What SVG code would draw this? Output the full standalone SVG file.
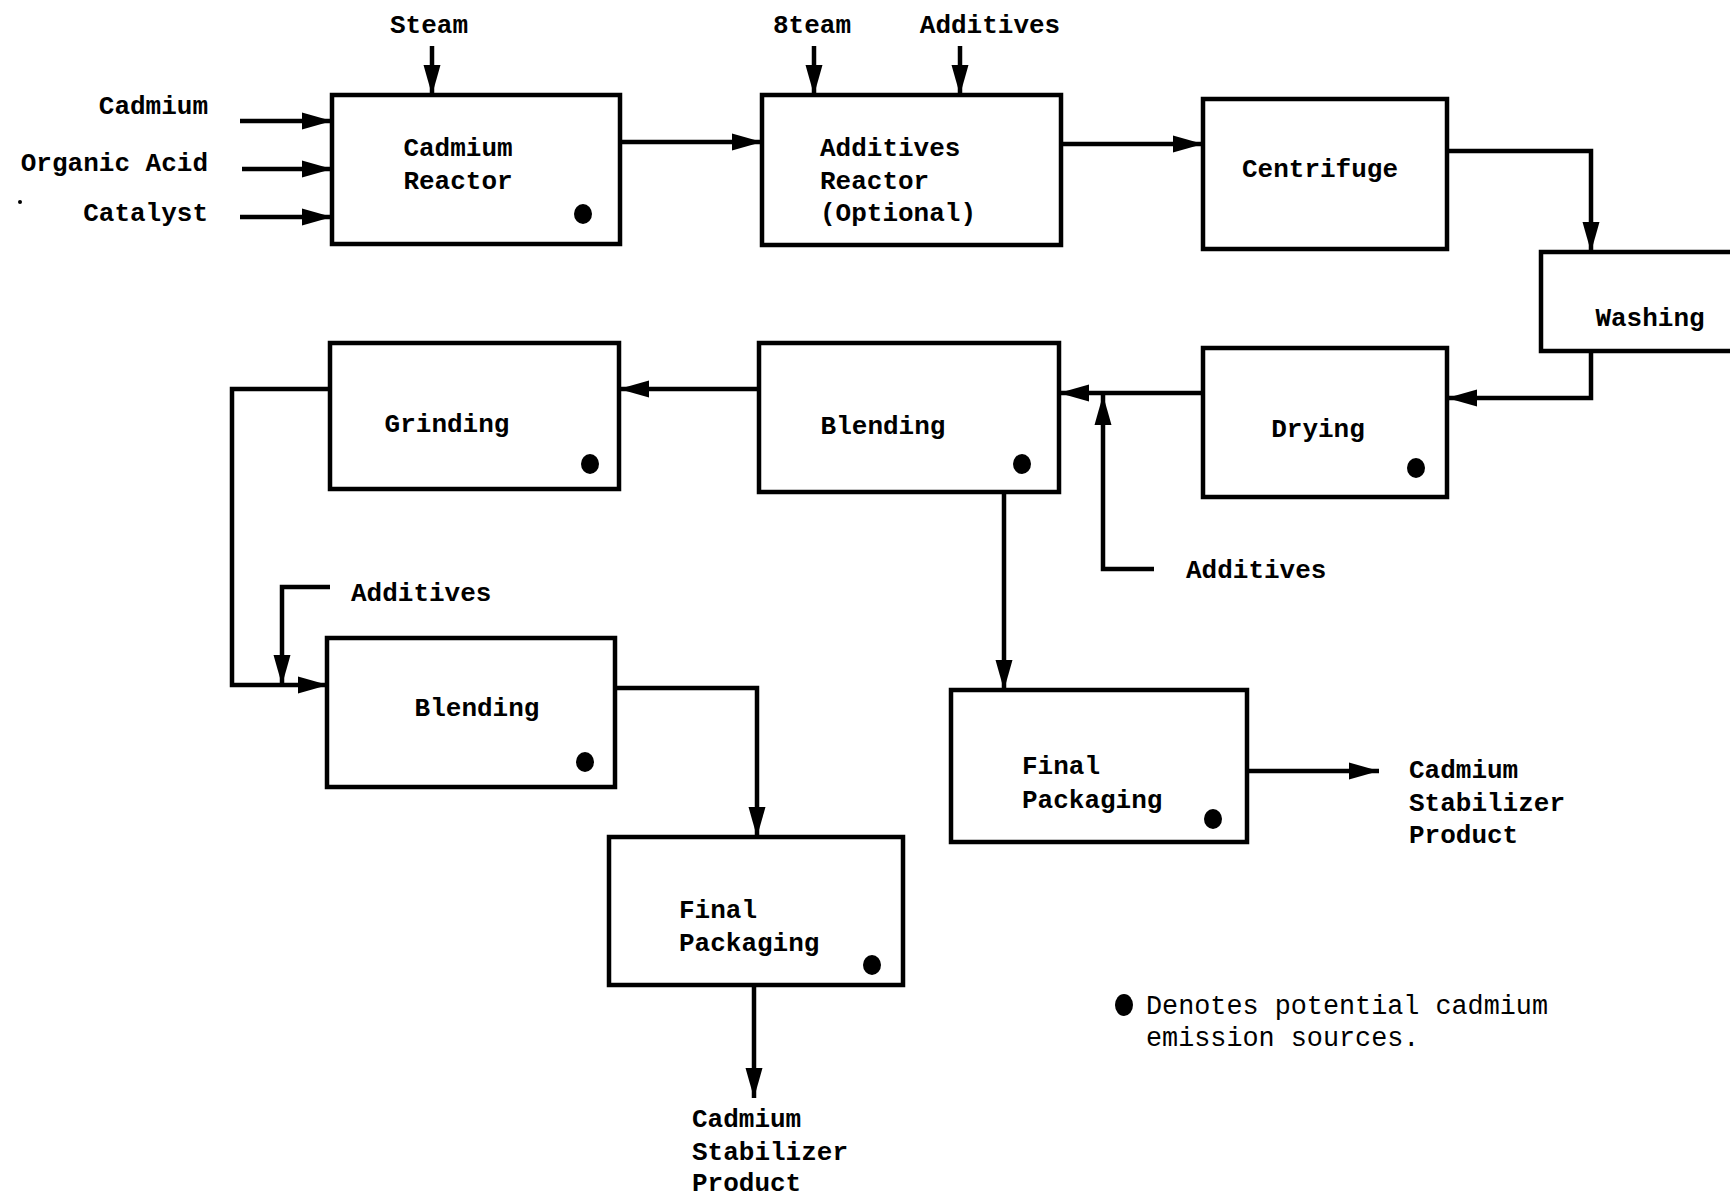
<svg xmlns="http://www.w3.org/2000/svg" width="1730" height="1197" viewBox="0 0 1730 1197">
<style>
.box{fill:#fff;stroke:#000;stroke-width:4.5}
.t{font-family:"Liberation Mono","DejaVu Sans Mono",monospace;font-weight:bold;font-size:26px;fill:#000}
.l{font-family:"Liberation Mono","DejaVu Sans Mono",monospace;font-size:26.8px;fill:#000}
.c{fill:none;stroke:#000;stroke-width:4.5}
.dot{fill:#000}
</style>
<defs>
<marker id="ah" markerUnits="userSpaceOnUse" markerWidth="32" markerHeight="20" refX="30" refY="10" orient="auto">
<path d="M0,1.5 L30,10 L0,18.5 z" fill="#000"/>
</marker>
</defs>
<rect width="1730" height="1197" fill="#fff"/>

<g id="connectors">
<line class="c" x1="432" y1="46" x2="432" y2="95" marker-end="url(#ah)"/>
<line class="c" x1="240" y1="121" x2="332" y2="121" marker-end="url(#ah)"/>
<line class="c" x1="242" y1="169" x2="332" y2="169" marker-end="url(#ah)"/>
<line class="c" x1="240" y1="217" x2="332" y2="217" marker-end="url(#ah)"/>
<line class="c" x1="620" y1="142" x2="762" y2="142" marker-end="url(#ah)"/>
<line class="c" x1="814" y1="46" x2="814" y2="95" marker-end="url(#ah)"/>
<line class="c" x1="960" y1="46" x2="960" y2="95" marker-end="url(#ah)"/>
<line class="c" x1="1061" y1="144" x2="1203" y2="144" marker-end="url(#ah)"/>
<polyline class="c" points="1447,151 1591,151 1591,252" marker-end="url(#ah)"/>
<polyline class="c" points="1591,351 1591,398 1447,398" marker-end="url(#ah)"/>
<line class="c" x1="1203" y1="393" x2="1059" y2="393" marker-end="url(#ah)"/>
<polyline class="c" points="1154,569 1103,569 1103,395" marker-end="url(#ah)"/>
<line class="c" x1="759" y1="389" x2="619" y2="389" marker-end="url(#ah)"/>
<polyline class="c" points="330,389 232,389 232,685 328,685" marker-end="url(#ah)"/>
<polyline class="c" points="330,587 282,587 282,685" marker-end="url(#ah)"/>
<polyline class="c" points="615,688 757,688 757,837" marker-end="url(#ah)"/>
<line class="c" x1="754" y1="985" x2="754" y2="1098" marker-end="url(#ah)"/>
<line class="c" x1="1004" y1="492" x2="1004" y2="690" marker-end="url(#ah)"/>
<line class="c" x1="1247" y1="771" x2="1379" y2="771" marker-end="url(#ah)"/>
</g>

<g id="labels">
<text class="t" x="429" y="33" text-anchor="middle">Steam</text>
<text class="t" x="208" y="114" text-anchor="end">Cadmium</text>
<text class="t" x="208" y="171" text-anchor="end">Organic Acid</text>
<text class="t" x="208" y="221" text-anchor="end">Catalyst</text>
<circle class="dot" cx="20" cy="202" r="2"/>
<text class="t" x="812" y="33" text-anchor="middle">8team</text>
<text class="t" x="990" y="33" text-anchor="middle">Additives</text>
<text class="t" x="1186" y="578">Additives</text>
<text class="t" x="351" y="601">Additives</text>
<text class="t" x="692" y="1127">Cadmium</text>
<text class="t" x="692" y="1160">Stabilizer</text>
<text class="t" x="692" y="1191">Product</text>
<text class="t" x="1409" y="778">Cadmium</text>
<text class="t" x="1409" y="811">Stabilizer</text>
<text class="t" x="1409" y="843">Product</text>
</g>

<g id="cadmium-reactor">
<rect class="box" x="332" y="95" width="288" height="149"/>
<text class="t" x="458" y="156" text-anchor="middle">Cadmium</text>
<text class="t" x="458" y="189" text-anchor="middle">Reactor</text>
<ellipse class="dot" cx="583" cy="214" rx="9" ry="10"/>
</g>

<g id="additives-reactor">
<rect class="box" x="762" y="95" width="299" height="150"/>
<text class="t" x="820" y="156">Additives</text>
<text class="t" x="820" y="189">Reactor</text>
<text class="t" x="820" y="221">(Optional)</text>
</g>

<g id="centrifuge">
<rect class="box" x="1203" y="99" width="244" height="150"/>
<text class="t" x="1320" y="177" text-anchor="middle">Centrifuge</text>
</g>

<g id="washing">
<rect class="box" x="1541" y="252" width="220" height="99"/>
<text class="t" x="1650" y="326" text-anchor="middle">Washing</text>
</g>

<g id="drying">
<rect class="box" x="1203" y="348" width="244" height="149"/>
<text class="t" x="1318" y="437" text-anchor="middle">Drying</text>
<ellipse class="dot" cx="1416" cy="468" rx="9" ry="10"/>
</g>

<g id="blending-1">
<rect class="box" x="759" y="343" width="300" height="149"/>
<text class="t" x="883" y="434" text-anchor="middle">Blending</text>
<ellipse class="dot" cx="1022" cy="464" rx="9" ry="10"/>
</g>

<g id="grinding">
<rect class="box" x="330" y="343" width="289" height="146"/>
<text class="t" x="447" y="432" text-anchor="middle">Grinding</text>
<ellipse class="dot" cx="590" cy="464" rx="9" ry="10"/>
</g>

<g id="blending-2">
<rect class="box" x="327" y="638" width="288" height="149"/>
<text class="t" x="477" y="716" text-anchor="middle">Blending</text>
<ellipse class="dot" cx="585" cy="762" rx="9" ry="10"/>
</g>

<g id="final-packaging-1">
<rect class="box" x="609" y="837" width="294" height="148"/>
<text class="t" x="679" y="918">Final</text>
<text class="t" x="679" y="951">Packaging</text>
<ellipse class="dot" cx="872" cy="965" rx="9" ry="10"/>
</g>

<g id="final-packaging-2">
<rect class="box" x="951" y="690" width="296" height="152"/>
<text class="t" x="1022" y="774">Final</text>
<text class="t" x="1022" y="808">Packaging</text>
<ellipse class="dot" cx="1213" cy="819" rx="9" ry="10"/>
</g>

<g id="legend">
<ellipse class="dot" cx="1124" cy="1005" rx="9" ry="11"/>
<text class="l" x="1146" y="1014">Denotes potential cadmium</text>
<text class="l" x="1146" y="1046">emission sources.</text>
</g>
</svg>
